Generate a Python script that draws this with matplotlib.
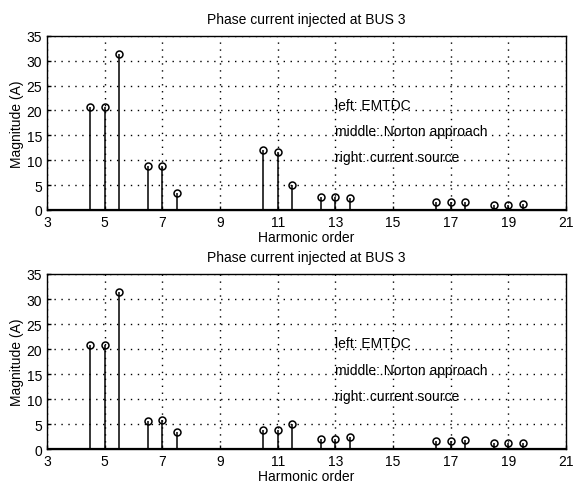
import matplotlib.pyplot as plt
import numpy as np

plt.rcParams['font.family'] = ['Liberation Sans', 'DejaVu Sans']

harmonics = [4.5, 5, 5.5, 6.5, 7, 7.5, 10.5, 11, 11.5, 12.5, 13, 13.5,
             16.5, 17, 17.5, 18.5, 19, 19.5]
mag_top = [20.8, 20.8, 31.3, 8.8, 8.9, 3.4, 12.1, 11.7, 5.0, 2.7, 2.7, 2.5,
           1.7, 1.6, 1.7, 1.1, 1.1, 1.2]
mag_bottom = [20.8, 20.8, 31.4, 5.7, 5.8, 3.5, 3.9, 3.9, 5.0, 2.1, 2.1, 2.5,
              1.6, 1.6, 1.8, 1.2, 1.2, 1.3]
notes = ['left: EMTDC', 'middle: Norton approach', 'right: current source']
note_y = [21.2, 15.9, 10.7]

fig = plt.figure(figsize=(5.74, 4.85), dpi=100, facecolor='w')
ax1 = fig.add_axes([0.082, 0.565, 0.904, 0.359])
ax2 = fig.add_axes([0.082, 0.072, 0.904, 0.361])

for ax, mags in [(ax1, mag_top), (ax2, mag_bottom)]:
    ml, sl, bl = ax.stem(harmonics, mags, linefmt='k-', markerfmt='ko', basefmt='k-')
    ml.set_markerfacecolor('none')
    ml.set_markersize(5)
    ml.set_markeredgewidth(1.1)
    sl.set_linewidth(1.1)
    bl.set_linewidth(1.6)
    bl.set_xdata([3, 21])
    ax.set_xlim(3, 21)
    ax.set_ylim(0, 35)
    ax.set_xticks(np.arange(3, 22, 2))
    ax.set_yticks(np.arange(0, 36, 5))
    # sparse dotted grid like matlab
    ax.grid(True, color='k', linestyle=(0, (1, 4)), linewidth=1.0)
    ax.tick_params(direction='in', length=3, labelsize=10, width=1)
    for s in ax.spines.values():
        s.set_linewidth(1.0)
    ax.set_title('Phase current injected at BUS 3', fontsize=10, pad=9)
    ax.set_xlabel('Harmonic order', fontsize=10, labelpad=1)
    ax.set_ylabel('Magnitude (A)', fontsize=10, labelpad=2)
    for t, y in zip(notes, note_y):
        ax.text(13, y, t, fontsize=10, va='center', ha='left')

fig.savefig('out.png', dpi=100)
